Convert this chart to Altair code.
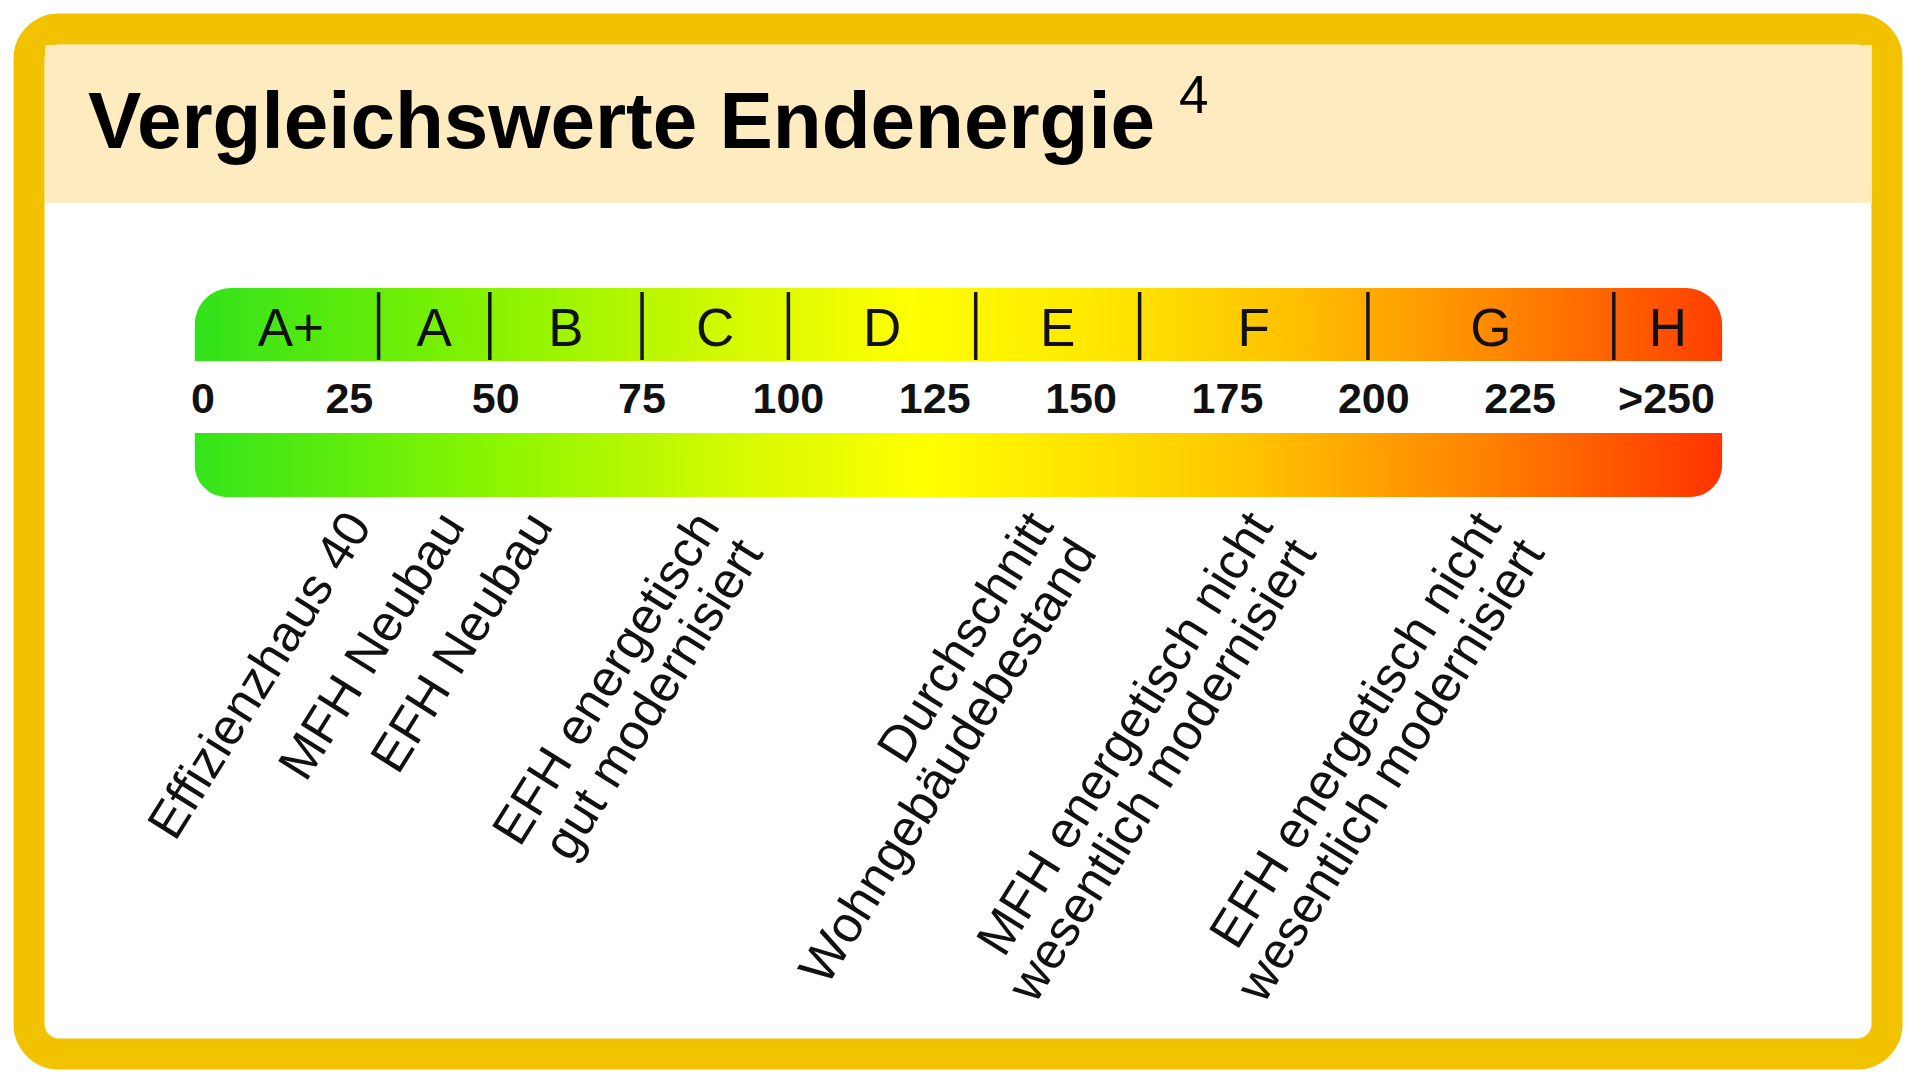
import altair as alt
import pandas as pd

# ---------------- data ----------------
TITLE = "Vergleichswerte Endenergie"
FOOTNOTE = "4"

CLASSES = ["A+", "A", "B", "C", "D", "E", "F", "G", "H"]
CLASS_FROM = [0, 30, 49, 75, 100, 132, 160, 199, 241]
CLASS_TO = [30, 49, 75, 100, 132, 160, 199, 241, 259.5]

TICK_VALUES = [0, 25, 50, 75, 100, 125, 150, 175, 200, 225, 250]
TICK_LABELS = ["0", "25", "50", "75", "100", "125", "150", "175", "200", "225", ">250"]

REF_LABELS = [
    "Effizienzhaus 40",
    "MFH Neubau",
    "EFH Neubau",
    "EFH energetisch\ngut modernisiert",
    "Durchschnitt\nWohngebäudebestand",
    "MFH energetisch nicht\nwesentlich modernisiert",
    "EFH energetisch nicht\nwesentlich modernisiert",
]
REF_VALUES = [29, 45, 60, 88.5, 145.5, 183, 222]

SCALE_FROM = -1.4
SCALE_TO = 259.5

# ---------------- style / layout ----------------
FONT = "Liberation Sans"
YELLOW = "#F2C200"
BEIGE = "#FEEBC0"
W, H = 1858, 1025
X_MIN, X_MAX = -29.72, 287.67

TOP_STOPS = [(0.0, "#30E21C"), (0.18, "#80F200"), (0.36, "#D8FA00"), (0.47, "#FFFF00"),
             (0.6, "#FFE600"), (0.72, "#FFC000"), (0.86, "#FF8400"), (1.0, "#FF3E00")]
BOT_STOPS = [(0.0, "#33E41A"), (0.2, "#8CF600"), (0.36, "#D8FA00"), (0.48, "#FFFF00"),
             (0.68, "#FFC800"), (0.84, "#FF8400"), (1.0, "#FF3300")]


def grad(stops):
    return alt.LinearGradient(
        gradient="linear",
        stops=[alt.GradientStop(offset=o, color=c) for o, c in stops],
        x1=0, x2=1, y1=0, y2=0,
    )


X = alt.Scale(domain=[X_MIN, X_MAX], nice=False, zero=False)

bar_df = pd.DataFrame({"a": [SCALE_FROM], "b": [SCALE_TO]})
cls_df = pd.DataFrame({"cls": CLASSES, "lo": CLASS_FROM, "hi": CLASS_TO})
cls_df["mid"] = (cls_df["lo"] + cls_df["hi"]) / 2
div_df = pd.DataFrame({"v": CLASS_FROM[1:]})
tick_df = pd.DataFrame({"v": TICK_VALUES, "lab": TICK_LABELS})
ref_df = pd.DataFrame({"v": REF_VALUES, "lab": REF_LABELS})
one = pd.DataFrame({"k": [0]})

header = alt.Chart(one).mark_rect(color=BEIGE).encode(
    x=alt.value(16), x2=alt.value(W - 15), y=alt.value(16), y2=alt.value(174)
)

title = alt.Chart(pd.DataFrame({"t": [TITLE]})).mark_text(
    align="left", baseline="alphabetic", font=FONT, fontSize=80, fontWeight="bold", color="black"
).encode(x=alt.value(59), y=alt.value(119), text="t:N")

sup = alt.Chart(pd.DataFrame({"t": [FOOTNOTE]})).mark_text(
    align="left", baseline="alphabetic", font=FONT, fontSize=53, color="black"
).encode(x=alt.value(1150), y=alt.value(84), text="t:N")

top_bar = alt.Chart(bar_df).mark_rect(
    color=grad(TOP_STOPS), cornerRadiusTopLeft=60, cornerRadiusTopRight=42
).encode(x=alt.X("a:Q", scale=X, axis=None), x2="b:Q", y=alt.value(259), y2=alt.value(332))

bot_bar = alt.Chart(bar_df).mark_rect(
    color=grad(BOT_STOPS), cornerRadiusBottomLeft=55, cornerRadiusBottomRight=36
).encode(x=alt.X("a:Q", scale=X, axis=None), x2="b:Q", y=alt.value(404), y2=alt.value(468))

dividers = alt.Chart(div_df).mark_rule(color="#141414", strokeWidth=3.5).encode(
    x=alt.X("v:Q", scale=X, axis=None), y=alt.value(263), y2=alt.value(331)
)

letters = alt.Chart(cls_df).mark_text(
    align="center", baseline="alphabetic", font=FONT, fontSize=53, color="#111111"
).encode(x=alt.X("mid:Q", scale=X, axis=None), y=alt.value(317), text="cls:N")

ticks = alt.Chart(tick_df).mark_text(
    align="center", baseline="alphabetic", font=FONT, fontSize=43, fontWeight="bold", color="#111111"
).encode(x=alt.X("v:Q", scale=X, axis=None), y=alt.value(384), text="lab:N")

refs = alt.Chart(ref_df).mark_text(
    align="right", baseline="alphabetic", font=FONT, fontSize=51, angle=302,
    lineBreak="\n", lineHeight=51, color="#111111"
).encode(x=alt.X("v:Q", scale=X, axis=None), y=alt.value(497), text="lab:N")

chart = alt.layer(
    header, title, sup, top_bar, bot_bar, dividers, letters, ticks, refs
).properties(
    width=W, height=H,
    autosize=alt.AutoSizeParams(type="none"),
    padding={"left": 21, "top": 21, "right": 20, "bottom": 20},
    background="white",
).configure_view(stroke=YELLOW, strokeWidth=31, cornerRadius=30, fill="white")

chart.save("out.html", embed_options={"renderer": "svg", "actions": False})
